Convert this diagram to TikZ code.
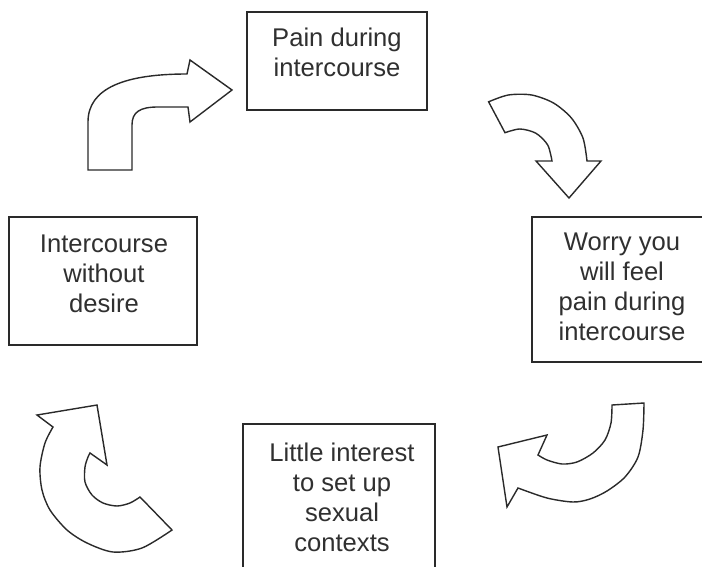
\documentclass[tikz,border=0pt]{standalone}
\usepackage{fontspec}
\setmainfont{Liberation Sans}
\definecolor{ink}{HTML}{2A2A2A}
\definecolor{txt}{HTML}{303030}
\begin{document}
\begin{tikzpicture}[x=1pt,y=-1pt,
  box/.style={draw=ink, line width=1.3pt, inner sep=0pt, fill=white},
  lbl/.style={inner sep=0pt, align=center, text=txt, font=\fontsize{25.6}{30}\selectfont},
  blockarrow/.style={draw=ink, line width=1.4pt, line join=miter, fill=white}]
\useasboundingbox (0,0) rectangle (702,567);
\clip (0,0) rectangle (702,567);

% boxes
\node[box, minimum width=180pt, minimum height=98pt] (pain) at (337,61) {};
\node[lbl] (paint) at (337,52.5) {Pain during\\intercourse};

\node[box, minimum width=188pt, minimum height=128pt] (nodesire) at (103,281) {};
\node[lbl] (nodesiret) at (104,274) {Intercourse\\without\\desire};

\node[box, minimum width=180pt, minimum height=145pt] (worry) at (622,289.5) {};
\node[lbl] (worryt) at (622,286.5) {Worry you\\will feel\\pain during\\intercourse};

\node[box, minimum width=192pt, minimum height=156pt] (little) at (339,502) {};
\node[lbl] (littlet) at (342,497.5) {Little interest\\to set up\\sexual\\contexts};

% arrow 1 (top left, pointing right)
\draw[blockarrow] (88,170) -- (88,122) .. controls (88,88) and (125,74) .. (187,74)
  -- (190,60) -- (232,90) -- (190,122) -- (188,107) -- (158,107)
  .. controls (140,107) and (132,112) .. (132,125) -- (132,170) -- cycle;

% arrow 2 (top right, pointing down)
\draw[blockarrow] (488.6,101.8) -- plot[smooth] coordinates {(488.6,101.8) (508.4,95.0) (531.6,95.0) (553.5,103.0) (571.3,117.9) (583.0,138.1) (587,161)}
  -- (601,161) -- (569,198) -- (536,161)
  -- plot[smooth] coordinates {(552,161) (547.7,145.0) (536,133.3) (520,129) (505,132.7)} -- cycle;

% arrow 3 (bottom right, pointing left-up)
\draw[blockarrow] (644,403) -- plot[smooth] coordinates {(644,403) (643,430) (638,457) (625,477) (607,491) (590,499) (573,502) (547,498) (518,488)}
  -- (507,507) -- (498,447) -- (547,435)
  -- plot[smooth] coordinates {(538,455) (547,460) (562,464) (577,462) (593,453) (605,440) (611,423) (612,405)} -- cycle;

% arrow 4 (bottom left, pointing up)
\draw[blockarrow] (97,405) -- (37,415) -- (53,427)
  -- plot[smooth] coordinates {(53,427) (45,443) (40,467) (42,490) (50,510) (67,530) (87,543) (113,552) (142,548) (172,530)}
  -- (140,497)
  -- plot[smooth] coordinates {(140,497) (130,503) (117,506) (103,503) (92,495) (85,482) (85,467) (88,457) (90,453)}
  -- (107,465) -- cycle;
\end{tikzpicture}
\end{document}
